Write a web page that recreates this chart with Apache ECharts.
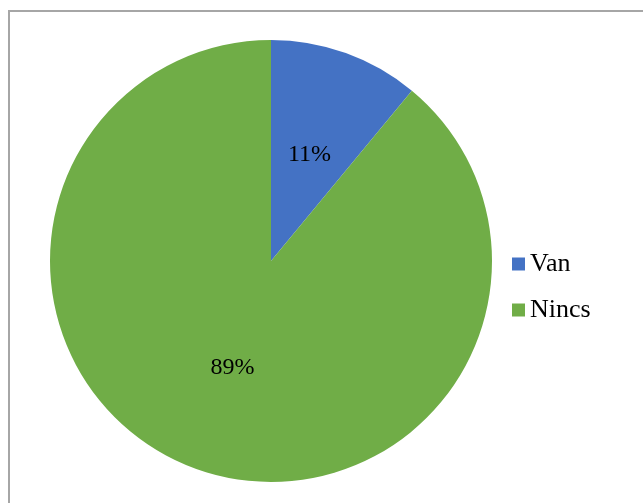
<!DOCTYPE html>
<html>
<head>
<meta charset="utf-8">
<script src="https://cdn.jsdelivr.net/npm/echarts@6/dist/echarts.min.js"></script>
<style>
html,body{margin:0;padding:0;background:#fff;}
#frame{position:absolute;left:8px;top:10px;width:660px;height:520px;border-left:2px solid #a6a6a6;border-top:2px solid #a6a6a6;}
#chart{position:absolute;left:0;top:0;width:643px;height:503px;}
</style>
</head>
<body>
<div id="frame"></div>
<div id="chart"></div>
<script>
const categories = ['Van', 'Nincs'];
const values = [11, 89];
const colors = ['#4472C4', '#70AD47'];

const chart = echarts.init(document.getElementById('chart'), null, {renderer: 'canvas'});
chart.setOption({
  backgroundColor: 'transparent',
  animation: false,
  textStyle: {fontFamily: '"Liberation Serif", "Times New Roman", serif'},
  legend: {
    orient: 'vertical',
    left: 512,
    top: 251,
    padding: 0,
    itemWidth: 13,
    itemHeight: 13,
    itemGap: 20,
    itemTextGap: 10,
    icon: 'rect',
    data: categories,
    textStyle: {fontSize: 26, lineHeight: 26, color: '#000', fontFamily: '"Liberation Serif", "Times New Roman", serif'}
  },
  series: [{
    type: 'pie',
    center: [271, 261],
    radius: 221,
    startAngle: 90,
    clockwise: true,
    label: {
      position: 'inside',
      formatter: '{d}%',
      fontSize: 24,
      lineHeight: 24,
      color: '#000',
      fontFamily: '"Liberation Serif", "Times New Roman", serif'
    },
    labelLine: {show: false},
    emphasis: {disabled: true},
    itemStyle: {borderWidth: 0},
    data: categories.map((c, i) => ({name: c, value: values[i], itemStyle: {color: colors[i]}}))
  }]
});
</script>
</body>
</html>
